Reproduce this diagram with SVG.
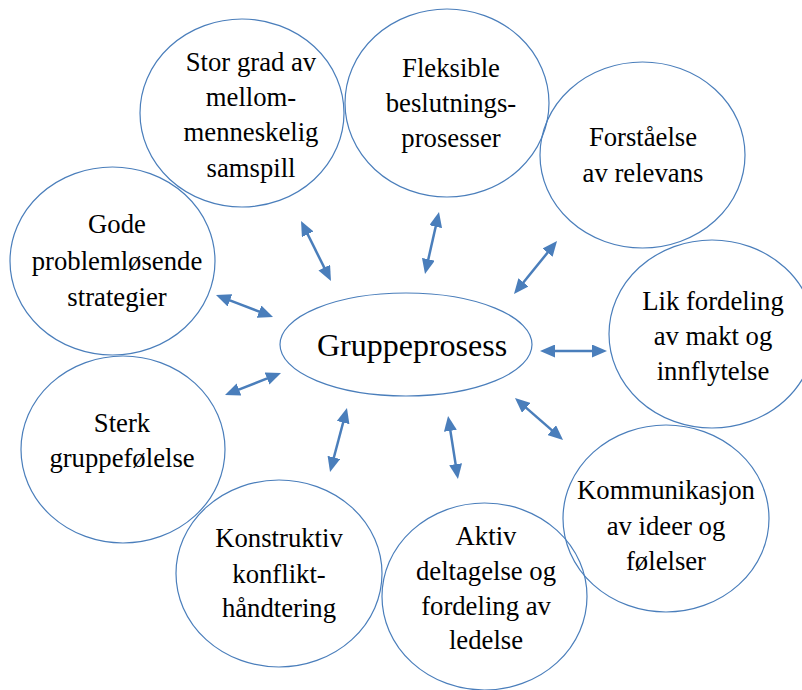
<svg xmlns="http://www.w3.org/2000/svg" width="802" height="690" viewBox="0 0 802 690">
<style>
.n ellipse{fill:none;stroke:#4A7EBB;stroke-width:1.2}
.n text{font-family:'Liberation Serif','Tinos','Times New Roman','DejaVu Serif',serif;font-size:26.7px;fill:#000;text-anchor:middle}
.c text{font-size:32px}
.e line{stroke:#4A7EBB;stroke-width:2.5;marker-start:url(#ah);marker-end:url(#ah)}
</style>
<defs>
<marker id="ah" markerUnits="userSpaceOnUse" viewBox="0 0 15 13" markerWidth="15" markerHeight="13" refX="5" refY="6.5" orient="auto-start-reverse">
<path d="M0,0 L15,6.5 L0,13 z" fill="#4A7EBB"/>
</marker>
</defs>
<rect width="802" height="690" fill="#fff"/>
<g id="n-center" class="n c">
<ellipse cx="406" cy="344.5" rx="126" ry="51.5"/>
<text x="412" y="356" font-family="Liberation Serif, serif">Gruppeprosess</text>
</g>
<g id="n-stor" class="n">
<ellipse cx="242" cy="113" rx="102" ry="94"/>
<text x="251" y="71">Stor grad av</text>
<text x="251" y="106">mellom-</text>
<text x="251" y="141">menneskelig</text>
<text x="251" y="176.5">samspill</text>
</g>
<g id="n-fleks" class="n">
<ellipse cx="447" cy="103" rx="102" ry="94"/>
<text x="451" y="77">Fleksible</text>
<text x="451" y="112">beslutnings-</text>
<text x="451" y="147">prosesser</text>
</g>
<g id="n-forst" class="n">
<ellipse cx="642.5" cy="155" rx="102.5" ry="93"/>
<text x="643" y="146">Forståelse</text>
<text x="643" y="182">av relevans</text>
</g>
<g id="n-lik" class="n">
<ellipse cx="712" cy="334" rx="103" ry="94"/>
<text x="713" y="310">Lik fordeling</text>
<text x="713" y="345">av makt og</text>
<text x="713" y="380">innflytelse</text>
</g>
<g id="n-komm" class="n">
<ellipse cx="666" cy="518.5" rx="103" ry="93.5"/>
<text x="666" y="499">Kommunikasjon</text>
<text x="666" y="535">av ideer og</text>
<text x="666" y="570">følelser</text>
</g>
<g id="n-aktiv" class="n">
<ellipse cx="484.5" cy="596.5" rx="102.5" ry="93.5"/>
<text x="486" y="545">Aktiv</text>
<text x="486" y="580">deltagelse og</text>
<text x="486" y="615">fordeling av</text>
<text x="486" y="649">ledelse</text>
</g>
<g id="n-konstr" class="n">
<ellipse cx="279" cy="573.5" rx="103" ry="93.5"/>
<text x="279" y="547">Konstruktiv</text>
<text x="279" y="583">konflikt-</text>
<text x="279" y="617">håndtering</text>
</g>
<g id="n-sterk" class="n">
<ellipse cx="123" cy="449.5" rx="102" ry="93.5"/>
<text x="122" y="432">Sterk</text>
<text x="122" y="467">gruppefølelse</text>
</g>
<g id="n-gode" class="n">
<ellipse cx="112.5" cy="261" rx="102.5" ry="94"/>
<text x="117" y="233">Gode</text>
<text x="117" y="270">problemløsende</text>
<text x="117" y="306">strategier</text>
</g>
<g id="connectors" class="e">
<line x1="305.5" y1="229.9" x2="326.5" y2="272.1"/>
<line x1="436.8" y1="221.8" x2="427.2" y2="264.2"/>
<line x1="550.7" y1="248.8" x2="520.3" y2="286.2"/>
<line x1="225.3" y1="298.6" x2="263.7" y2="313.4"/>
<line x1="550" y1="351" x2="597" y2="351"/>
<line x1="234.3" y1="391.3" x2="271.7" y2="376.7"/>
<line x1="522.5" y1="404.6" x2="555.5" y2="433.4"/>
<line x1="344.4" y1="417.7" x2="332.6" y2="462.3"/>
<line x1="449.6" y1="425.9" x2="456.4" y2="469.1"/>
</g>
</svg>
